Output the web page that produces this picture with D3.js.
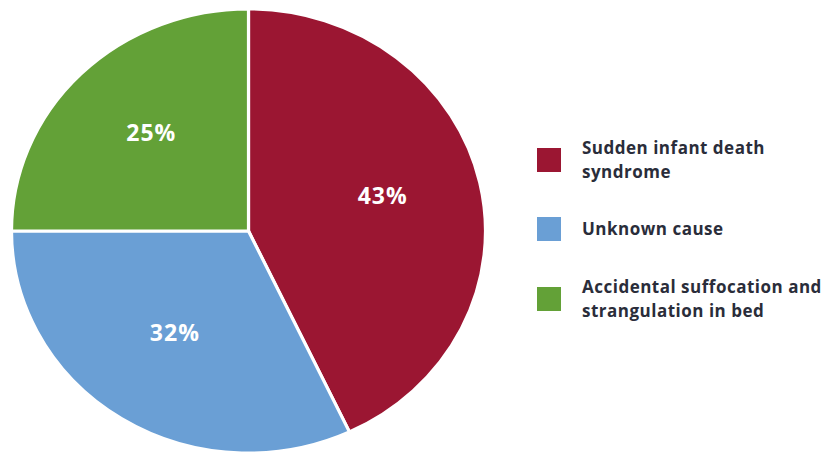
<!DOCTYPE html>
<html>
  <head>
    <script src="https://d3js.org/d3.v7.min.js"></script>
    <style>
      body { margin: 0; background: #fff; }
      text { font-family: "Open Sans", sans-serif; }
    </style>
  </head>
  <body>
    <div id="chart"></div>
  </body>
  <script>
    // Data
    var causes = ["Sudden infant death syndrome", "Unknown cause", "Accidental suffocation and strangulation in bed"];
    var shares = [43, 32, 25];
    var colors = ["#9b1632", "#6a9fd5", "#63a137"];
    var legendLines = [["Sudden infant death", "syndrome"], ["Unknown cause"], ["Accidental suffocation and", "strangulation in bed"]];

    var width = 822, height = 455;
    var cx = 248.5, cy = 231,
        r = 222,        // vertical radius
        sx = 237 / 222; // pie is slightly wider than tall

    var svg = d3.select("#chart")
                .append("svg")
                  .attr("width", width)
                  .attr("height", height);

    var data = causes.map(function(c, i) { return {cause: c, value: shares[i], color: colors[i]}; });

    var pie = d3.pie()
                .sort(null)
                .value(function(d) { return d.value; });

    var arc = d3.arc().innerRadius(0).outerRadius(r);
    var labelArc = d3.arc().innerRadius(r * 0.58).outerRadius(r * 0.58);

    var arcs = pie(data);

    var g = svg.append("g")
               .attr("transform", "translate(" + cx + "," + cy + ") scale(" + sx + ",1)");

    g.selectAll("path")
     .data(arcs)
     .enter()
     .append("path")
       .attr("d", arc)
       .style("fill", function(d) { return d.data.color; })
       .style("stroke", "#fff")
       .style("stroke-width", 3)
       .style("stroke-linejoin", "round");

    // percentage labels (kept outside the scaled group so the text isn't stretched)
    svg.selectAll(".pct")
       .data(arcs)
       .enter()
       .append("text")
         .attr("class", "pct")
         .attr("x", function(d) { return cx + labelArc.centroid(d)[0] * sx; })
         .attr("y", function(d) { return cy + labelArc.centroid(d)[1] - 7; })
         .attr("dy", "0.35em")
         .style("text-anchor", "middle")
         .style("font-size", "23px")
         .style("font-weight", "bold")
         .style("letter-spacing", "1px")
         .style("fill", "#fff")
         .text(function(d) { return d.data.value + "%"; });

    // Legend
    var legendY = d3.scaleOrdinal()
                    .domain(causes)
                    .range([148, 217, 287]);

    var lineH = 23.5;

    var item = svg.selectAll(".legend")
                  .data(data)
                  .enter()
                  .append("g")
                    .attr("class", "legend")
                    .attr("transform", function(d) { return "translate(537," + legendY(d.cause) + ")"; });

    item.append("rect")
        .attr("width", 24)
        .attr("height", 24)
        .style("fill", function(d) { return d.color; });

    item.append("text")
        .attr("y", function(d) {
          var n = legendLines[causes.indexOf(d.cause)].length;
          return 12 + 6 - (n - 1) * lineH / 2;
        })
        .style("font-size", "17px")
        .style("font-weight", "bold")
        .style("letter-spacing", "0.5px")
        .style("fill", "#2a2d3a")
        .selectAll("tspan")
        .data(function(d) { return legendLines[causes.indexOf(d.cause)]; })
        .enter()
        .append("tspan")
          .attr("x", 45)
          .attr("dy", function(d, i) { return i === 0 ? 0 : lineH; })
          .text(function(d) { return d; });
  </script>
</html>
